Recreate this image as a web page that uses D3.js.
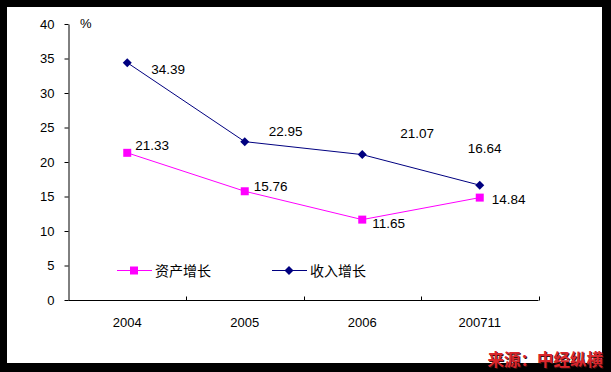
<!DOCTYPE html>
<html lang="zh">
<head>
<meta charset="UTF-8">
<title>资产增长与收入增长</title>
<script src="https://d3js.org/d3.v7.min.js"></script>
<style>
    body { margin: 0; background: #000; }
    .tick-label { font-family: "Liberation Sans", Arial, sans-serif; font-size: 13px; fill: #000; }
    .val { font-family: "Liberation Sans", Arial, sans-serif; font-size: 13.5px; fill: #000; }
    .leg { font-family: "Noto Sans CJK SC", sans-serif; font-size: 14px; fill: #000; }
</style>
</head>
<body>
<svg id="main" width="611" height="372"></svg>
<script>
    let categories = ['2004', '2005', '2006', '200711'];
    let incomeGrowth = [34.39, 22.95, 21.07, 16.64];
    let assetGrowth = [21.33, 15.76, 11.65, 14.84];
    let yTicks = [0, 5, 10, 15, 20, 25, 30, 35, 40];
    // label offsets (dx, dy) from each point, as dragged in the original
    let incomeLabelOff = [[24, 6], [24, -11], [38, -22], [-12, -37]];
    let assetLabelOff = [[8, -8], [9, -5], [10, 3], [12, 1]];

    let svg = d3.select('svg#main');
    svg.append('rect').attr('x', 0).attr('y', 0).attr('width', 611).attr('height', 372).attr('fill', '#000');
    svg.append('rect').attr('x', 7).attr('y', 7).attr('width', 595).attr('height', 356).attr('fill', '#fff');

    let plotLeft = 68.5, plotRight = 538.5, plotTop = 24, plotBottom = 300;
    let xScale = d3.scaleBand().domain(categories).range([plotLeft, plotRight]);
    let yScale = d3.scaleLinear().domain([0, 40]).range([plotBottom, plotTop]);
    let cx = function(d){ return xScale(d) + xScale.bandwidth() / 2; };

    // y axis
    let yAxis = svg.append('g').attr('transform', 'translate(' + plotLeft + ',0)')
        .call(d3.axisLeft(yScale).tickValues(yTicks).tickSize(4).tickSizeOuter(0).tickPadding(10));
    yAxis.select('.domain').attr('stroke', '#000');
    yAxis.selectAll('text').attr('class', 'tick-label').attr('font-family', null).attr('font-size', null);

    // x axis with inside ticks on the category boundaries
    let xAxis = svg.append('g').attr('transform', 'translate(0,' + (plotBottom + 0.5) + ')');
    xAxis.append('line').attr('x1', plotLeft).attr('x2', plotRight).attr('stroke', '#000');
    xAxis.selectAll('line.b').data(categories).enter().append('line')
        .attr('x1', function(d){ return Math.round(xScale(d) + xScale.bandwidth()) + 0.5; })
        .attr('x2', function(d){ return Math.round(xScale(d) + xScale.bandwidth()) + 0.5; })
        .attr('y1', 0).attr('y2', -4).attr('stroke', '#000');
    xAxis.selectAll('text').data(categories).enter().append('text')
        .attr('class', 'tick-label')
        .attr('x', cx).attr('y', 26).attr('text-anchor', 'middle')
        .text(function(d){ return d; });

    svg.append('text').attr('class', 'tick-label').attr('x', 80).attr('y', 28).text('%');

    let line = d3.line().x(function(d, i){ return cx(categories[i]); }).y(function(d){ return yScale(d); });

    function drawSeries(vals, color, marker, offs) {
        svg.append('path').datum(vals).attr('d', line).attr('fill', 'none').attr('stroke', color).attr('stroke-width', 1);
        let g = svg.append('g');
        g.selectAll('path').data(vals).enter().append('path')
            .attr('d', marker)
            .attr('transform', function(d, i){ return 'translate(' + cx(categories[i]) + ',' + yScale(d) + ')'; })
            .attr('fill', color);
        svg.append('g').selectAll('text').data(vals).enter().append('text')
            .attr('class', 'val')
            .attr('x', function(d, i){ return cx(categories[i]) + offs[i][0]; })
            .attr('y', function(d, i){ return yScale(d) + offs[i][1] + 5; })
            .text(function(d){ return d.toFixed(2); });
    }
    let diamond = 'M0,-4.5L4.5,0L0,4.5L-4.5,0Z';
    let square = 'M-4,-4H4V4H-4Z';
    drawSeries(incomeGrowth, '#000080', diamond, incomeLabelOff);
    drawSeries(assetGrowth, '#ff00ff', square, assetLabelOff);

    // legend
    let legend = [
        {name: '资产增长', color: '#ff00ff', marker: square, x: 117},
        {name: '收入增长', color: '#000080', marker: diamond, x: 272}
    ];
    let lg = svg.selectAll('g.legend').data(legend).enter().append('g')
        .attr('transform', function(d){ return 'translate(' + d.x + ',270.5)'; });
    lg.append('line').attr('x1', 0).attr('x2', 35).attr('stroke', function(d){ return d.color; });
    lg.append('path').attr('d', function(d){ return d.marker; }).attr('transform', 'translate(17,0)')
        .attr('fill', function(d){ return d.color; });
    lg.append('text').attr('class', 'leg').attr('x', 38).attr('y', 5).text(function(d){ return d.name; });

    // source
    let src = svg.append('g').attr('font-family', '"Noto Sans CJK SC", sans-serif')
        .attr('font-size', '16.5px').attr('font-weight', 'bold');
    src.append('text').attr('x', 603).attr('y', 366).attr('text-anchor', 'end').attr('fill', '#3a1010')
        .attr('transform', 'translate(1,1)').text('来源：中经纵横');
    src.append('text').attr('x', 603).attr('y', 366).attr('text-anchor', 'end').attr('fill', '#d8262c')
        .text('来源：中经纵横');
</script>
</body>
</html>
